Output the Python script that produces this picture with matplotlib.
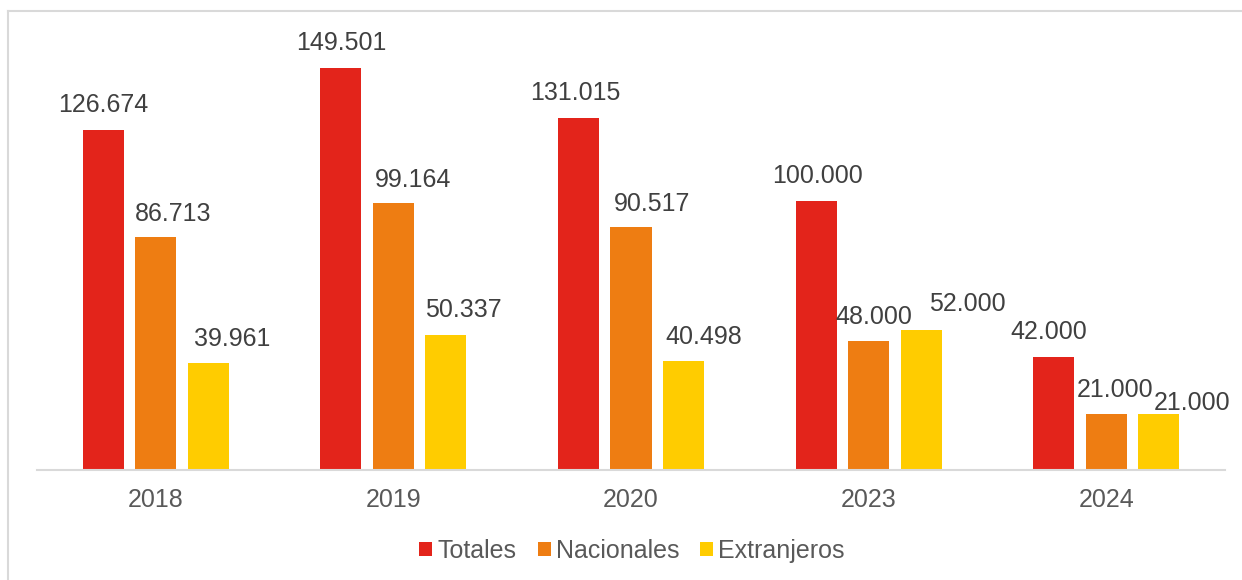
import numpy as np
import matplotlib
matplotlib.use('Agg')
import matplotlib.pyplot as plt
from matplotlib.lines import Line2D
from matplotlib.patches import Patch

# ── Data ──────────────────────────────────────────────────────────────
years = ['2018', '2019', '2020', '2023', '2024']
totales = [126674, 149501, 131015, 100000, 42000]
nacionales = [86713, 99164, 90517, 48000, 21000]
extranjeros = [39961, 50337, 40498, 52000, 21000]
series_names = ['Totales', 'Nacionales', 'Extranjeros']

# ── Style ─────────────────────────────────────────────────────────────
COLORS = ['#E3241B', '#EE7D12', '#FFCC00']
TEXT = '#595959'
LABEL = '#404040'
GRID = '#D9D9D9'
FS = 18
BAR_W = 0.173
PITCH = 0.221

# label nudges in pixels (dx, dy) per series, per year - mimics Excel placement
label_dx = [
    [0, 0, -3, 1, -5],
    [17, 20, 21, 5, 9],
    [24, 17, 20, 46, 33],
]
label_dy = [
    [25, 25, 25, 25, 25],
    [23, 23, 23, 24, 24],
    [24, 25, 24, 26, 11],
]

plt.rcParams['font.family'] = ['Liberation Sans', 'DejaVu Sans']

fig = plt.figure(figsize=(12.42, 5.8), dpi=100)
fig.patch.set_facecolor('white')
ax = fig.add_axes([37 / 1242, 1 - 470 / 580, 1188 / 1242, 430 / 580])

x = np.arange(len(years))
data = [totales, nacionales, extranjeros]
for i, (vals, col) in enumerate(zip(data, COLORS)):
    xs = x + (i - 1) * PITCH
    ax.bar(xs, vals, width=BAR_W, color=col, zorder=2)
    for j, (xx, v) in enumerate(zip(xs, vals)):
        ax.annotate(f'{v:,}'.replace(',', '.'), (xx, v),
                    xytext=(label_dx[i][j], label_dy[i][j]),
                    textcoords='offset pixels', ha='center', va='center',
                    fontsize=FS, color=LABEL)

ax.set_xlim(-0.5, 4.5)
ax.set_ylim(0, 160000)
ax.set_xticks(x)
ax.set_xticklabels(years, fontsize=FS, color=TEXT)
ax.set_yticks([])
ax.tick_params(axis='x', length=0, pad=13)
for s in ['top', 'right', 'left']:
    ax.spines[s].set_visible(False)
ax.spines['bottom'].set_color(GRID)
ax.spines['bottom'].set_linewidth(1.5)

handles = [Patch(facecolor=c, edgecolor='none') for c in COLORS]
leg = fig.legend(handles, series_names, loc='center',
                 bbox_to_anchor=(0.509, 1 - 551 / 580), ncol=3, frameon=False,
                 fontsize=FS, handlelength=0.52, handleheight=0.52,
                 handletextpad=0.2, columnspacing=0.85)
for t in leg.get_texts():
    t.set_color(TEXT)

# outer chart frame: only top and left edges are visible
top_y = 1 - 10.5 / 580
left_x = 7.5 / 1242
fig.add_artist(Line2D([left_x, 1.0], [top_y, top_y], transform=fig.transFigure,
                      color=GRID, linewidth=1.5))
fig.add_artist(Line2D([left_x, left_x], [0, top_y], transform=fig.transFigure,
                      color=GRID, linewidth=1.5))

fig.savefig('out.png', dpi=100, facecolor='white')
